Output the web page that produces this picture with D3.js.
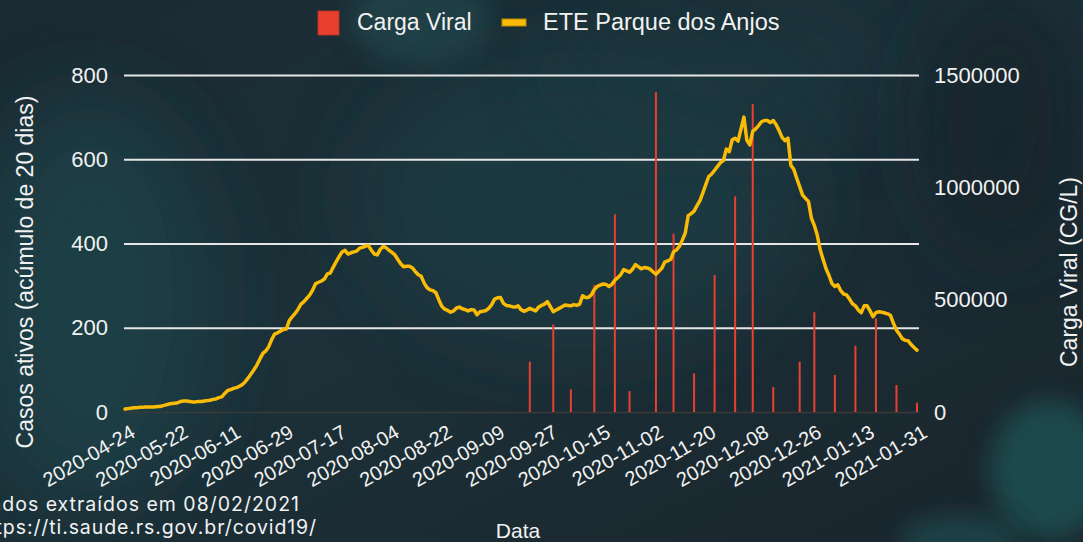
<!DOCTYPE html>
<html><head><meta charset="utf-8">
<script src="https://cdn.jsdelivr.net/npm/d3@7"></script>
<style>html,body{margin:0;padding:0;background:#1b262e;overflow:hidden}</style>
</head><body><svg id="c" width="1083" height="542"></svg>
<script>
// ---- data ----
const earlyDates = ["2020-04-24","2020-04-27","2020-04-28","2020-04-29","2020-04-30","2020-05-04","2020-05-05","2020-05-06","2020-05-07","2020-05-08","2020-05-11","2020-05-12","2020-05-13","2020-05-14","2020-05-15","2020-05-18","2020-05-19","2020-05-20","2020-05-22","2020-05-23","2020-05-25","2020-05-26","2020-05-27","2020-05-28","2020-05-29","2020-05-30","2020-05-31","2020-06-01","2020-06-02","2020-06-03","2020-06-05","2020-06-06","2020-06-07","2020-06-08","2020-06-09","2020-06-10","2020-06-11"];
const dailyStart = "2020-06-12", dailyEnd = "2021-02-01";
const tickLabels = ["2020-04-24","2020-05-22","2020-06-11","2020-06-29","2020-07-17","2020-08-04","2020-08-22","2020-09-09","2020-09-27","2020-10-15","2020-11-02","2020-11-20","2020-12-08","2020-12-26","2021-01-13","2021-01-31"];
const casosAtivos = [
7,8,9,10,10,11,11,12,12,12,
12,13,13,15,17,19,20,21,22,25,
26,26,25,24,24,25,25,26,27,28,
30,31,34,36,44,51,53,56,58,61,
65,72,81,91,101,112,126,139,145,155,
172,185,188,192,196,197,217,226,234,244,
256,262,270,278,290,305,308,311,316,328,
330,344,357,369,380,384,375,378,380,382,
389,391,394,395,384,375,373,386,393,390,
384,379,373,362,352,345,346,346,342,333,
326,322,306,295,290,288,283,266,251,244,
241,237,240,247,249,245,243,240,243,242,
231,238,239,241,246,255,268,271,272,258,
253,252,250,249,252,243,239,242,246,243,
240,249,253,256,262,250,238,242,246,250,
254,253,252,255,253,256,276,272,272,278,
291,298,301,304,303,298,303,313,319,326,
338,335,332,339,350,345,340,343,342,339,
333,327,334,341,356,359,362,380,385,393,
408,425,466,471,477,490,502,520,540,559,
565,574,583,592,597,624,618,646,650,643,
672,700,645,634,666,672,680,689,692,692,
687,692,682,668,652,644,650,586,576,555,
535,515,507,500,460,443,420,385,362,340,
324,305,298,302,288,280,278,268,257,252,
242,236,252,252,240,226,236,238,237,235,
233,229,210,194,185,174,170,169,160,153,
147];
const cargaDates = ["2020-09-21","2020-09-29","2020-10-05","2020-10-13","2020-10-20","2020-10-25","2020-11-03","2020-11-09","2020-11-16","2020-11-23","2020-11-30","2020-12-06","2020-12-13","2020-12-22","2020-12-27","2021-01-03","2021-01-10","2021-01-17","2021-01-24","2021-01-31"];
const cargaViral = [224000,390000,101000,565000,880000,93000,1423000,794000,172000,610000,960000,1371000,111000,224000,444000,165000,295000,417000,120000,41000];
const leftTicks = [0,200,400,600,800];
const rightTicks = [0,500000,1000000,1500000];

// ---- build ----
const fmt = d3.timeFormat("%Y-%m-%d"), parse = d3.timeParse("%Y-%m-%d");
const categories = earlyDates.concat(d3.timeDay.range(parse(dailyStart), parse(dailyEnd)).map(fmt));
const lineData = categories.map((d,i)=>({date:d, v:casosAtivos[i]}));
const barData = cargaDates.map((d,i)=>({date:d, v:cargaViral[i]}));

const svg = d3.select("#c");
const W = 1083, H = 542;
const FONT = "'Liberation Sans', Arial, sans-serif";

// background
const defs = svg.append("defs");
const bg = defs.append("linearGradient").attr("id","bg").attr("x1",0).attr("y1",0).attr("x2",1).attr("y2",1);
bg.append("stop").attr("offset","0%").attr("stop-color","#1b2a32");
bg.append("stop").attr("offset","45%").attr("stop-color","#1c3139");
bg.append("stop").attr("offset","100%").attr("stop-color","#1a242b");
defs.append("filter").attr("id","blur").attr("x","-50%").attr("y","-50%").attr("width","200%").attr("height","200%")
  .append("feGaussianBlur").attr("stdDeviation",40);
defs.append("filter").attr("id","blur2").attr("x","-50%").attr("y","-50%").attr("width","200%").attr("height","200%")
  .append("feGaussianBlur").attr("stdDeviation",12);
svg.append("rect").attr("width",W).attr("height",H).attr("fill","url(#bg)");
const glows = [
  {cx:90,cy:300,rx:120,ry:200,c:"#1e4046",o:0.9,f:"blur"},
  {cx:420,cy:20,rx:70,ry:45,c:"#21454b",o:0.8,f:"blur2"},
  {cx:580,cy:200,rx:220,ry:150,c:"#1d3b42",o:0.8,f:"blur"},
  {cx:720,cy:80,rx:160,ry:60,c:"#1d3940",o:0.6,f:"blur"},
  {cx:1050,cy:470,rx:60,ry:70,c:"#1f4d50",o:0.9,f:"blur2"},
  {cx:960,cy:540,rx:60,ry:25,c:"#1f4a4d",o:0.8,f:"blur2"},
  {cx:1000,cy:120,rx:80,ry:140,c:"#17202a",o:0.7,f:"blur"}
];
svg.append("g").selectAll("ellipse").data(glows).join("ellipse")
  .attr("cx",d=>d.cx).attr("cy",d=>d.cy).attr("rx",d=>d.rx).attr("ry",d=>d.ry)
  .attr("fill",d=>d.c).attr("opacity",d=>d.o).attr("filter",d=>`url(#${d.f})`);

// scales
const x = d3.scalePoint().domain(categories).range([125, 917]);
const yL = d3.scaleLinear().domain([0,800]).range([412,75]);
const yR = d3.scaleLinear().domain([0,1500000]).range([412,75]);

// left axis + grid
const gl = svg.append("g").attr("transform","translate(124,0)")
  .call(d3.axisLeft(yL).tickValues(leftTicks).tickSize(-795).tickPadding(16));
gl.select(".domain").remove();
gl.selectAll(".tick line").attr("stroke",d=>d===0?"#3b3a38":"#e6e6e6").attr("stroke-width",d=>d===0?1.5:2.2);
gl.selectAll(".tick text").attr("fill","#f2f2f2").style("font-family",FONT).style("font-size","22px");

// right axis
const gr = svg.append("g").attr("transform","translate(919,0)")
  .call(d3.axisRight(yR).tickValues(rightTicks).tickSize(0).tickPadding(15).tickFormat(d3.format("d")));
gr.select(".domain").remove();
gr.selectAll(".tick text").attr("fill","#f2f2f2").style("font-family",FONT).style("font-size","22px");

// bars
svg.append("g").selectAll("rect").data(barData).join("rect")
  .attr("x",d=>x(d.date)-1).attr("width",2)
  .attr("y",d=>yR(d.v)).attr("height",d=>yR(0)-yR(d.v))
  .attr("fill","#e8402e");

// line
svg.append("path").datum(lineData)
  .attr("d", d3.line().x(d=>x(d.date)).y(d=>yL(d.v)))
  .attr("fill","none").attr("stroke","#f9bb06").attr("stroke-width",3.5)
  .attr("stroke-linejoin","round").attr("stroke-linecap","round");

// x axis
const gx = svg.append("g").attr("transform","translate(0,412)")
  .call(d3.axisBottom(x).tickValues(tickLabels).tickSize(0));
gx.select(".domain").remove();
gx.selectAll(".tick text").attr("fill","#f2f2f2").style("font-family",FONT).style("font-size","20px")
  .attr("text-anchor","end").attr("y",0).attr("dy","0.71em")
  .attr("transform","translate(4,12) rotate(-30)");

// axis titles
svg.append("text").attr("transform","translate(33,272) rotate(-90)").attr("text-anchor","middle")
  .attr("fill","#f2f2f2").style("font-family",FONT).style("font-size","23px").text("Casos ativos (acúmulo de 20 dias)");
svg.append("text").attr("transform","translate(1077,272) rotate(-90)").attr("text-anchor","middle")
  .attr("fill","#f2f2f2").style("font-family",FONT).style("font-size","23px").text("Carga Viral (CG/L)");
svg.append("text").attr("x",518).attr("y",538).attr("text-anchor","middle")
  .attr("fill","#f2f2f2").style("font-family",FONT).style("font-size","21px").text("Data");

// legend
svg.append("rect").attr("x",318).attr("y",11).attr("width",21).attr("height",24).attr("fill","#e8402e").attr("stroke","#b5322a").attr("stroke-width",1);
svg.append("text").attr("x",357).attr("y",30).attr("fill","#f2f2f2").style("font-family",FONT).style("font-size","23px").text("Carga Viral");
svg.append("rect").attr("x",502).attr("y",19).attr("width",24).attr("height",7).attr("fill","#f9bb06").attr("stroke","#b88a00").attr("stroke-width",1);
svg.append("text").attr("x",543).attr("y",30).attr("fill","#f2f2f2").style("font-family",FONT).style("font-size","23.5px").text("ETE Parque dos Anjos");

// source notes (cut at the left edge, as in the reference)
const noteFont = "Inter, 'Open Sans', sans-serif";
svg.append("text").attr("x",300).attr("y",511).attr("text-anchor","end").attr("fill","#f2f2f2")
  .style("font-family",noteFont).style("font-size","19.5px").style("letter-spacing","1px").text("Dados extraídos em 08/02/2021");
svg.append("text").attr("x",317).attr("y",534).attr("text-anchor","end").attr("fill","#f2f2f2")
  .style("font-family",noteFont).style("font-size","19.5px").style("letter-spacing","0.9px").text("https://ti.saude.rs.gov.br/covid19/");
</script></body></html>
